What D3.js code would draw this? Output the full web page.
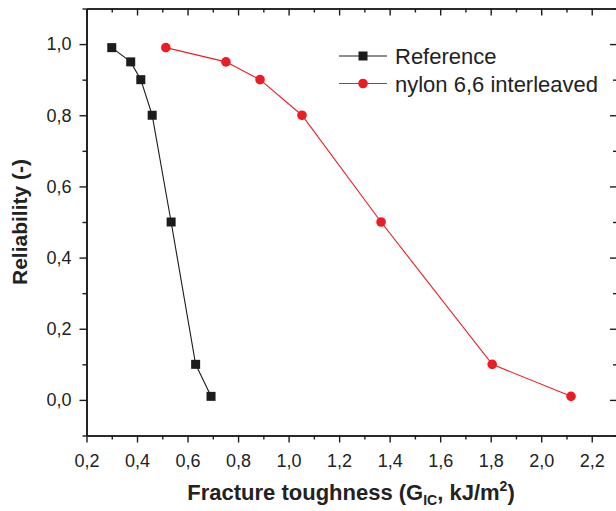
<!DOCTYPE html>
<html>
<head>
<meta charset="utf-8">
<script src="https://cdn.jsdelivr.net/npm/d3@7"></script>
<style>
  body { margin: 0; background: #fff; }
  svg { display: block; font-family: "Liberation Sans", Arial, Helvetica, sans-serif; }
</style>
</head>
<body>
<div id="chart"></div>
<script>
// data
const reliability = [0.99, 0.95, 0.90, 0.80, 0.50, 0.10, 0.01];
const referenceGic = [0.30, 0.375, 0.415, 0.46, 0.535, 0.632, 0.693];
const nylonGic = [0.514, 0.752, 0.887, 1.053, 1.366, 1.806, 2.118];
const seriesNames = ["Reference", "nylon 6,6 interleaved"];
const xMajorTicks = [0.2, 0.4, 0.6, 0.8, 1.0, 1.2, 1.4, 1.6, 1.8, 2.0, 2.2];
const yMajorTicks = [0.0, 0.2, 0.4, 0.6, 0.8, 1.0];
const xMinorTicks = [0.3, 0.5, 0.7, 0.9, 1.1, 1.3, 1.5, 1.7, 1.9, 2.1];
const yMinorTicks = [-0.1, 0.1, 0.3, 0.5, 0.7, 0.9, 1.1];

const W = 616, H = 511;
const m = { left: 86.5, right: 617, top: 8.5, bottom: 435.5 };
const ink = "#1c1c1c", red = "#ec1c24";

const svg = d3.select("#chart").append("svg")
    .attr("width", W).attr("height", H);

const x = d3.scaleLinear().domain([0.2, 2.3]).range([m.left, m.right]);
const y = d3.scaleLinear().domain([-0.1, 1.1]).range([m.bottom, m.top]);

const fmt = d => d3.format(".1f")(d).replace(".", ",");

function styleAxis(g) {
  g.select(".domain").attr("stroke", ink).attr("stroke-width", 1.6);
  g.selectAll(".tick line").attr("stroke", ink).attr("stroke-width", 1.4);
  g.selectAll(".tick text").attr("fill", "#222").style("font-size", "18px");
}

// bottom axis
svg.append("g").attr("transform", `translate(0,${m.bottom})`)
   .call(d3.axisBottom(x).tickValues(xMajorTicks).tickFormat(fmt).tickSize(7).tickSizeOuter(0).tickPadding(12))
   .call(styleAxis);
svg.append("g").attr("transform", `translate(0,${m.bottom})`)
   .call(d3.axisBottom(x).tickValues(xMinorTicks).tickFormat("").tickSize(4).tickSizeOuter(0))
   .call(styleAxis);

// top axis (ticks inward)
svg.append("g").attr("transform", `translate(0,${m.top})`)
   .call(d3.axisTop(x).tickValues(xMajorTicks).tickFormat("").tickSize(-7).tickSizeOuter(0))
   .call(styleAxis);
svg.append("g").attr("transform", `translate(0,${m.top})`)
   .call(d3.axisTop(x).tickValues(xMinorTicks).tickFormat("").tickSize(-4).tickSizeOuter(0))
   .call(styleAxis);

// left axis
svg.append("g").attr("transform", `translate(${m.left},0)`)
   .call(d3.axisLeft(y).tickValues(yMajorTicks).tickFormat(fmt).tickSize(7).tickSizeOuter(0).tickPadding(8))
   .call(styleAxis);
svg.append("g").attr("transform", `translate(${m.left},0)`)
   .call(d3.axisLeft(y).tickValues(yMinorTicks).tickFormat("").tickSize(4).tickSizeOuter(0))
   .call(styleAxis);

// right axis (ticks inward)
svg.append("g").attr("transform", `translate(${m.right},0)`)
   .call(d3.axisRight(y).tickValues(yMajorTicks).tickFormat("").tickSize(-7).tickSizeOuter(0))
   .call(styleAxis);
svg.append("g").attr("transform", `translate(${m.right},0)`)
   .call(d3.axisRight(y).tickValues(yMinorTicks).tickFormat("").tickSize(-4).tickSizeOuter(0))
   .call(styleAxis);

// series
const series = [
  { name: seriesNames[0], xs: referenceGic, color: ink, shape: "square" },
  { name: seriesNames[1], xs: nylonGic, color: red, shape: "circle" }
];

const line = d3.line().x(d => x(d[0])).y(d => y(d[1]));

function drawMarker(g, shape, color, cx, cy) {
  if (shape === "square") {
    g.append("rect").attr("x", cx - 4.5).attr("y", cy - 4.5)
     .attr("width", 9).attr("height", 9).attr("fill", color);
  } else {
    g.append("circle").attr("cx", cx).attr("cy", cy).attr("r", 4.8).attr("fill", color);
  }
}

series.forEach(s => {
  const pts = s.xs.map((v, i) => [v, reliability[i]]);
  svg.append("path").datum(pts)
     .attr("fill", "none").attr("stroke", s.color).attr("stroke-width", 1.1)
     .attr("d", line);
  const g = svg.append("g");
  pts.forEach(p => drawMarker(g, s.shape, s.color, x(p[0]), y(p[1])));
});

// legend
const legend = svg.append("g");
series.forEach((s, i) => {
  const ly = 56 + i * 27.5;
  legend.append("line").attr("x1", 339).attr("x2", 387).attr("y1", ly).attr("y2", ly)
        .attr("stroke", s.color).attr("stroke-width", 1.1);
  drawMarker(legend, s.shape, s.color, 363, ly);
  legend.append("text").attr("x", 395).attr("y", ly + 8)
        .attr("fill", "#222").style("font-size", "22px").text(s.name);
});

// axis titles
const xt = svg.append("text").attr("x", 351).attr("y", 500)
   .attr("text-anchor", "middle").attr("fill", "#222")
   .style("font-size", "22px").style("font-weight", "bold");
xt.append("tspan").text("Fracture toughness (G");
xt.append("tspan").attr("dy", 5).style("font-size", "14px").text("IC");
xt.append("tspan").attr("dy", -5).text(", kJ/m");
xt.append("tspan").attr("dy", -9).style("font-size", "14px").text("2");
xt.append("tspan").attr("dy", 9).text(")");

svg.append("text")
   .attr("transform", `translate(27,${222}) rotate(-90)`)
   .attr("text-anchor", "middle").attr("fill", "#222")
   .style("font-size", "21px").style("font-weight", "bold")
   .text("Reliability (-)");
</script>
</body>
</html>
